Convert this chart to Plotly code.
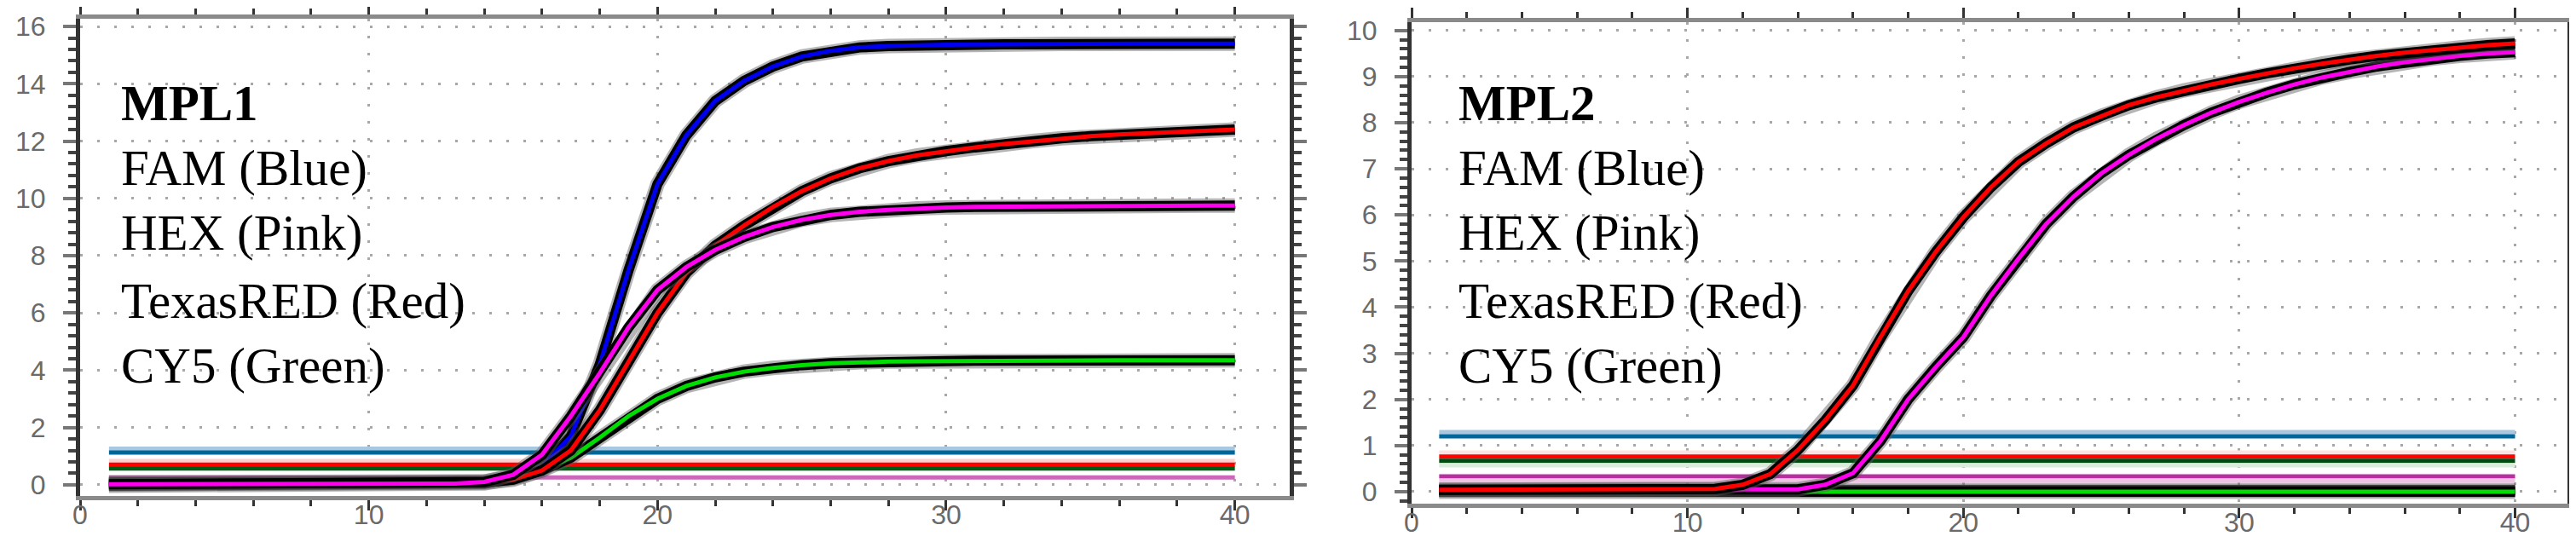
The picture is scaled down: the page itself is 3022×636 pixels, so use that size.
"""
MPL1 / MPL2 amplification curves
"""
import plotly.graph_objects as go

W, H = 3022, 636

# cycles (x axis)
cycles = [1, 2, 3, 4, 5, 6, 7, 8, 9, 10, 11, 12, 13, 14, 15, 16, 17, 18, 19, 20,
          21, 22, 23, 24, 25, 26, 27, 28, 29, 30, 31, 32, 33, 34, 35, 36, 37, 38, 39, 40]

# MPL1 curves
mpl1_fam = [0.08, 0.08, 0.08, 0.08, 0.08, 0.08, 0.08, 0.08, 0.08, 0.08, 0.08, 0.08, 0.09, 0.12,
            0.28, 0.65, 1.7, 4.2, 7.5, 10.5, 12.2, 13.4, 14.1, 14.6, 14.95, 15.15, 15.27, 15.32,
            15.35, 15.36, 15.37, 15.38, 15.38, 15.39, 15.39, 15.4, 15.4, 15.4, 15.4, 15.4]
mpl1_hex = [0.02, 0.02, 0.02, 0.02, 0.02, 0.02, 0.02, 0.02, 0.02, 0.02, 0.02, 0.03, 0.04, 0.1,
            0.35, 1.05, 2.4, 3.9, 5.5, 6.8, 7.6, 8.2, 8.65, 9.0, 9.25, 9.42, 9.53, 9.6,
            9.65, 9.68, 9.7, 9.71, 9.72, 9.73, 9.73, 9.74, 9.74, 9.75, 9.75, 9.75]
mpl1_texasred = [0.03, 0.03, 0.03, 0.03, 0.03, 0.03, 0.03, 0.03, 0.03, 0.03, 0.03, 0.03, 0.04, 0.08,
                 0.18, 0.5, 1.2, 2.6, 4.3, 6.0, 7.4, 8.35, 9.05, 9.7, 10.25, 10.7, 11.05, 11.3,
                 11.5, 11.65, 11.78, 11.9, 12.0, 12.1, 12.17, 12.23, 12.28, 12.33, 12.37, 12.4]
mpl1_cy5 = [-0.03, -0.03, -0.03, -0.03, -0.03, -0.03, -0.03, -0.03, -0.03, -0.03, -0.03, -0.02, 0.0, 0.05,
            0.22, 0.5, 0.95, 1.65, 2.4, 3.0, 3.45, 3.75, 3.95, 4.08, 4.18, 4.24, 4.28, 4.3,
            4.31, 4.32, 4.33, 4.33, 4.34, 4.34, 4.35, 4.35, 4.35, 4.35, 4.35, 4.35]

# MPL2 curves
mpl2_fam = [0.03, 0.03, 0.03, 0.03, 0.03, 0.03, 0.03, 0.03, 0.03, 0.03, 0.03, 0.03, 0.03, 0.03,
            0.03, 0.03, 0.03, 0.03, 0.03, 0.03, 0.03, 0.03, 0.03, 0.03, 0.03, 0.03, 0.03, 0.03,
            0.03, 0.03, 0.03, 0.03, 0.03, 0.03, 0.03, 0.03, 0.03, 0.03, 0.03, 0.03]
mpl2_hex = [0.04, 0.04, 0.04, 0.04, 0.04, 0.04, 0.04, 0.04, 0.04, 0.04, 0.04, 0.04, 0.04, 0.05,
            0.15, 0.4, 1.1, 2.0, 2.7, 3.35, 4.25, 5.05, 5.8, 6.4, 6.9, 7.3, 7.65, 7.95,
            8.22, 8.45, 8.65, 8.83, 8.98, 9.1, 9.22, 9.31, 9.39, 9.45, 9.5, 9.53]
mpl2_texasred = [0.04, 0.04, 0.04, 0.04, 0.04, 0.04, 0.04, 0.04, 0.04, 0.04, 0.06, 0.15, 0.38, 0.9,
                 1.55, 2.3, 3.35, 4.35, 5.2, 5.95, 6.6, 7.15, 7.55, 7.9, 8.15, 8.38, 8.55, 8.7,
                 8.83, 8.95, 9.07, 9.18, 9.28, 9.37, 9.45, 9.52, 9.58, 9.63, 9.68, 9.72]
mpl2_cy5 = [0.0, 0.0, 0.0, 0.0, 0.0, 0.0, 0.0, 0.0, 0.0, 0.0, 0.0, 0.0, 0.0, 0.0,
            0.0, 0.0, 0.0, 0.0, 0.0, 0.0, 0.0, 0.0, 0.0, 0.0, 0.0, 0.0, 0.0, 0.0,
            0.0, 0.0, 0.0, 0.0, 0.0, 0.0, 0.0, 0.0, 0.0, 0.0, 0.0, 0.0]

# threshold lines (value, colour) from cycle 1 to 40
threshold_span = [1, 40]
mpl1_thresholds = [1.26, 1.13, 0.83, 0.70, 0.57, 0.26]
mpl2_thresholds = [1.29, 1.20, 0.85, 0.76, 0.67, 0.57, 0.33, 0.24]

# label texts
mpl1_labels = ["<b>MPL1</b>", "FAM (Blue)", "HEX (Pink)", "TexasRED (Red)", "CY5 (Green)"]
mpl2_labels = ["<b>MPL2</b>", "FAM (Blue)", "HEX (Pink)", "TexasRED (Red)", "CY5 (Green)"]

mpl1_thr_colors = ["#a9c8df", "#00669a", "#ffd0d0", "#ff0000", "#005a14", "#cc66bb"]
mpl2_thr_colors = ["#a9c8df", "#00669a", "#ffe0e0", "#ff0000", "#004a10", "#dcecdc", "#b8309f", "#efc3e3"]
curve_colors = {"fam": "#0000f0", "hex": "#ff00ee", "red": "#ff0000", "cy5": "#00dd00"}

fig = go.Figure()


def add_curve(y, color, xa, ya):
    # grey halo, black outline, coloured core
    fig.add_trace(go.Scatter(x=cycles, y=y, mode="lines", xaxis=xa, yaxis=ya,
                             line=dict(color="rgba(90,90,90,0.45)", width=17), showlegend=False))
    fig.add_trace(go.Scatter(x=cycles, y=y, mode="lines", xaxis=xa, yaxis=ya,
                             line=dict(color="black", width=12), showlegend=False))
    fig.add_trace(go.Scatter(x=cycles, y=y, mode="lines", xaxis=xa, yaxis=ya,
                             line=dict(color=color, width=5), showlegend=False))


def add_thresholds(values, colors, xa, ya):
    for v, c in zip(values, colors):
        fig.add_trace(go.Scatter(x=threshold_span, y=[v, v], mode="lines", xaxis=xa, yaxis=ya,
                                 line=dict(color=c, width=5), showlegend=False))


add_thresholds(mpl1_thresholds, mpl1_thr_colors, "x", "y")
add_curve(mpl1_fam, curve_colors["fam"], "x", "y")
add_curve(mpl1_cy5, curve_colors["cy5"], "x", "y")
add_curve(mpl1_texasred, curve_colors["red"], "x", "y")
add_curve(mpl1_hex, curve_colors["hex"], "x", "y")

add_thresholds(mpl2_thresholds, mpl2_thr_colors, "x2", "y2")
add_curve(mpl2_fam, "#2a5a2a", "x2", "y2")
add_curve(mpl2_cy5, curve_colors["cy5"], "x2", "y2")
add_curve(mpl2_hex, curve_colors["hex"], "x2", "y2")
add_curve(mpl2_texasred, curve_colors["red"], "x2", "y2")

tickfont = dict(family="Liberation Sans", size=32, color="#6a6a6a")
grid = dict(showgrid=True, gridcolor="#a8a8a8", gridwidth=3, griddash="3px,17px")

xcommon = dict(range=[0, 41.9], dtick=10, tick0=0, ticks="outside", ticklen=12, tickwidth=3,
               tickcolor="#333", showline=True, linecolor="#8a8a8a", linewidth=5, mirror="ticks",
               tickfont=tickfont, zeroline=False, ticklabelstandoff=-22, automargin=False,
               minor=dict(dtick=2, ticks="outside", ticklen=7, tickwidth=3, tickcolor="#333", showgrid=False),
               **grid)
ycommon = dict(ticks="outside", ticklen=15, tickwidth=4, tickcolor="#777", showline=True,
               linecolor="#333", linewidth=5, mirror="ticks", tickfont=tickfont, zeroline=False,
               ticklabelstandoff=14, automargin=False, **grid)

# pixel layout of the two panels
p1 = dict(l=86, r=1505, t=14, b=574)
p2 = dict(l=1648, r=3004, t=18, b=583)

fig.update_layout(
    width=W, height=H, margin=dict(l=0, r=0, t=0, b=0),
    paper_bgcolor="white", plot_bgcolor="white", showlegend=False,
    xaxis=dict(domain=[p1["l"] / W, p1["r"] / W], anchor="y", **xcommon),
    yaxis=dict(domain=[1 - p1["b"] / H, 1 - p1["t"] / H], anchor="x", range=[-0.39, 16.27],
               dtick=2, minor=dict(dtick=0.4, ticks="outside", ticklen=9, tickwidth=4,
                                   tickcolor="#444", showgrid=False), **ycommon),
    xaxis2=dict(domain=[p2["l"] / W, p2["r"] / W], anchor="y2", **xcommon),
    yaxis2=dict(domain=[1 - p2["b"] / H, 1 - p2["t"] / H], anchor="x2", range=[-0.26, 10.18],
                dtick=1, minor=dict(dtick=0.2, ticks="outside", ticklen=9, tickwidth=4,
                                    tickcolor="#444", showgrid=False), **ycommon),
)

# text block in each panel
label_rows = [113, 189, 265, 345, 421]
for labels, x0 in [(mpl1_labels, 132), (mpl2_labels, 1701)]:
    for txt, yp in zip(labels, label_rows):
        fig.add_annotation(text=txt, xref="paper", yref="paper", x=x0 / W, y=1 - yp / H,
                           xanchor="left", yanchor="middle", showarrow=False,
                           font=dict(family="Liberation Serif", size=59, color="black"))

fig.write_html("out.html")
